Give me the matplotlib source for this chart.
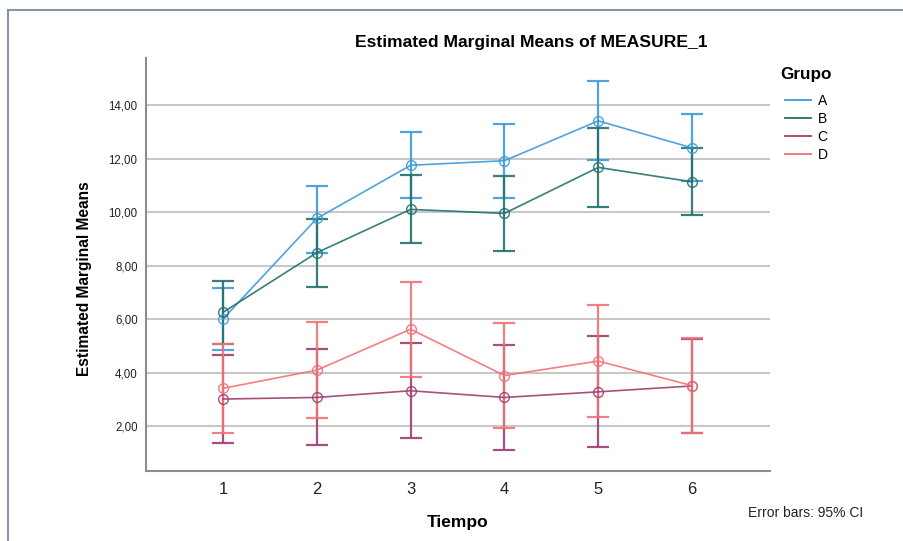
import matplotlib
matplotlib.use("Agg")
import matplotlib.pyplot as plt
from matplotlib.lines import Line2D
from matplotlib.ticker import FuncFormatter

plt.rcParams['font.family'] = ['Liberation Sans', 'DejaVu Sans']

# data
tiempo = [1, 2, 3, 4, 5, 6]
grupos = ['A', 'B', 'C', 'D']

a_mean = [6.00, 9.76, 11.75, 11.92, 13.41, 12.40]
a_low = [4.84, 8.47, 10.51, 10.51, 11.94, 11.16]
a_up = [7.15, 10.97, 13.00, 13.31, 14.90, 13.65]

b_mean = [6.25, 8.48, 10.10, 9.95, 11.67, 11.13]
b_low = [5.08, 7.21, 8.85, 8.55, 10.20, 9.90]
b_up = [7.42, 9.74, 11.37, 11.35, 13.15, 12.38]

c_mean = [3.01, 3.07, 3.32, 3.07, 3.28, 3.50]
c_low = [1.36, 1.29, 1.57, 1.09, 1.20, 1.75]
c_up = [4.66, 4.87, 5.10, 5.04, 5.38, 5.27]

d_mean = [3.41, 4.09, 5.62, 3.89, 4.43, 3.51]
d_low = [1.75, 2.31, 3.83, 1.93, 2.35, 1.73]
d_up = [5.07, 5.88, 7.39, 5.87, 6.53, 5.29]

colores = ['#3b9ad8', '#22706d', '#9e3d72', '#f27175']

series = [(a_mean, a_low, a_up), (b_mean, b_low, b_up),
          (c_mean, c_low, c_up), (d_mean, d_low, d_up)]

fig = plt.figure(figsize=(9.04, 5.41), dpi=100)
ax = fig.add_axes([146 / 904, 1 - 471 / 541, 624 / 904, 413 / 541])

for (m, lo, up), col, g in zip(series, colores, grupos):
    yerr = [[mi - l for mi, l in zip(m, lo)], [u - mi for mi, u in zip(m, up)]]
    ax.errorbar(tiempo, m, yerr=yerr, fmt='none', ecolor=col, elinewidth=1.6,
                capsize=8, capthick=1.6, alpha=0.9, zorder=3)
    ax.plot(tiempo, m, color=col, lw=1.2, marker='o', markersize=7,
            markerfacecolor='none', markeredgecolor=col, markeredgewidth=1.0,
            alpha=0.9, zorder=4, label=g)

ax.set_xlim(0.18, 6.83)
ax.set_ylim(0.32, 15.76)
ax.set_xticks(tiempo)
ax.set_yticks([2, 4, 6, 8, 10, 12, 14])
ax.yaxis.set_major_formatter(FuncFormatter(lambda v, p: f'{v:.2f}'.replace('.', ',')))
ax.tick_params(axis='x', length=0, labelsize=12, pad=8, colors='#222222')
ax.tick_params(axis='y', length=0, labelsize=8.3, pad=6, colors='#222222')
ax.grid(axis='y', color='#c8c8c8', lw=1.5)
ax.set_axisbelow(True)
for s in ['top', 'right']:
    ax.spines[s].set_visible(False)
for s in ['left', 'bottom']:
    ax.spines[s].set_color('#8c8c8c')
    ax.spines[s].set_linewidth(1.5)

fig.text(531 / 904, 1 - 43 / 541, 'Estimated Marginal Means of MEASURE_1',
         ha='center', va='center', fontsize=12.6, fontweight='bold')
fig.text(85 / 904, 1 - 279 / 541, 'Estimated Marginal Means', rotation=90,
         ha='center', va='center', fontsize=11.2, fontweight='bold')
fig.text(458 / 904, 1 - 523 / 541, 'Tiempo', ha='center', va='center',
         fontsize=12.5, fontweight='bold')
fig.text(748 / 904, 1 - 513 / 541, 'Error bars: 95% CI', ha='left', va='center',
         fontsize=10, color='#222222')

# legend
fig.text(780 / 904, 1 - 75 / 541, 'Grupo', ha='left', va='center',
         fontsize=12.3, fontweight='bold')
handles = [Line2D([], [], color=c, lw=1.3) for c in colores]
fig.legend(handles, grupos, loc='upper left', bbox_to_anchor=(785 / 904, 1 - 94 / 541),
           frameon=False, fontsize=10, handlelength=1.9, handletextpad=0.45,
           labelspacing=0.28, borderpad=0, borderaxespad=0)

# outer frame
fig.add_artist(Line2D([8 / 904, 1.0], [1 - 10 / 541, 1 - 10 / 541],
                      color='#8696aa', lw=1.5, transform=fig.transFigure))
fig.add_artist(Line2D([8 / 904, 8 / 904], [0.0, 1 - 10 / 541],
                      color='#8696aa', lw=1.5, transform=fig.transFigure))

fig.savefig('out.png', dpi=100)
